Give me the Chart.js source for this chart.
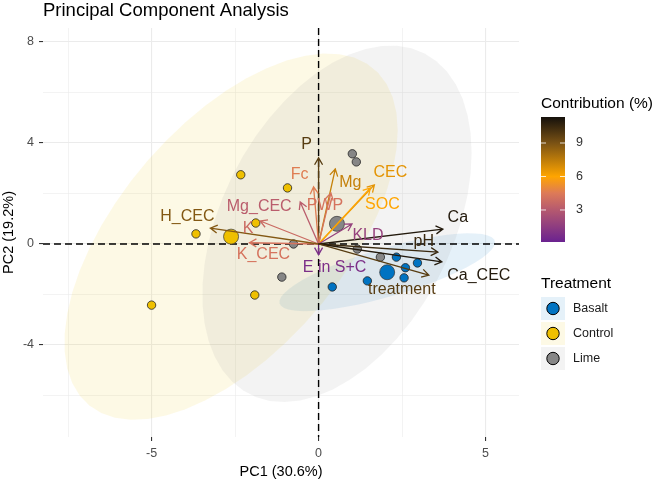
<!DOCTYPE html>
<html>
<head>
<meta charset="utf-8">
<title>Principal Component Analysis</title>
<script src="https://cdn.jsdelivr.net/npm/chart.js@4.4.1/dist/chart.umd.min.js"></script>
<style>
	html, body { margin: 0; padding: 0; background: #fff; }
	#pca-wrap { width: 657px; height: 481px; }
</style>
</head>
<body>
<div id="pca-wrap"><canvas id="pca-chart" width="657" height="481"></canvas></div>
<script>
	'use strict';

	// Individuals (PC1 / PC2 scores) per treatment group.
	var basaltPC1  = [2.33, 2.96, 2.60, 2.56, 1.46, 0.41];
	var basaltPC2  = [-0.52, -0.75, -0.94, -1.34, -1.46, -1.70];
	var controlPC1 = [-5.00, -3.67, -2.33, -1.88, -1.91, -0.93];
	var controlPC2 = [-2.42, 0.40, 2.74, 0.83, -2.02, 2.22];
	var limePC1    = [1.01, 1.13, -0.75, -1.10, 1.16, 1.85];
	var limePC2    = [3.57, 3.25, 0.00, -1.31, -0.20, -0.52];

	var groupNames = ['Basalt', 'Control', 'Lime'];

	// Variable loadings (arrow tips) and their contribution (%).
	var varNames   = ['P', 'Fc', 'Mg', 'CEC', 'SOC', 'PWP', 'Mg_CEC', 'K', 'K_CEC', 'H_CEC', 'E in S+C', 'KLD', 'Ca', 'pH', 'Ca_CEC', 'treatment'];
	var varPC1     = [0.00, -0.15, 0.50, 1.67, 1.55, 0.37, -0.55, -1.75, -2.07, -3.24, 0.00, 1.00, 3.72, 3.57, 3.69, 3.30];
	var varPC2     = [3.41, 2.26, 2.97, 2.34, 2.22, 2.02, 1.66, 0.91, 0.05, 0.63, -0.42, 0.79, 0.59, -0.32, -0.71, -1.23];
	var varContrib = [9.8, 4.6, 7.3, 6.6, 6.0, 4.2, 3.2, 3.8, 4.2, 8.8, 0.8, 1.8, 11.0, 10.5, 11.0, 9.8];

	// Axis ticks.
	var xTicks = [-7.5, -5, -2.5, 0, 2.5, 5];
	var xMajor = [-5, 0, 5];
	var yTicks = [-6, -4, -2, 0, 2, 4, 6, 8];
	var yMajor = [-4, 0, 4, 8];
	var contribTicks = [3, 6, 9];

	// ---- styling ----
	var FONT = '"Liberation Sans", Arial, Helvetica, sans-serif';
	var groupColors = { Basalt: '#0073C2', Control: '#EFC000', Lime: '#868686' };
	var ellipseAlpha = 0.1;
	var contribStops = [
		[0.13, [106, 34, 144]],
		[3.0, [181, 89, 111]],
		[4.5, [221, 122, 88]],
		[6.0, [255, 165, 0]],
		[9.0, [122, 82, 20]],
		[11.33, [21, 17, 12]]
	];
	// Label offsets (px) from each arrow tip, as placed by the repel step.
	var labelOffsets = {
		'P': [-12, -13], 'Fc': [-14, -12], 'Mg': [15, 14], 'CEC': [16, -12], 'SOC': [12, 17],
		'PWP': [-6, 13], 'Mg_CEC': [-41, 5], 'K': [-12, 8], 'K_CEC': [14, 12], 'H_CEC': [-23, -11],
		'E in S+C': [16, 13], 'KLD': [16, 12], 'Ca': [15, -11], 'pH': [-14, -10], 'Ca_CEC': [37, 14],
		'treatment': [-27, 15]
	};

	Chart.defaults.font.family = FONT;

	function mean(a) {
		var s = 0;
		for (var i = 0; i < a.length; i++) { s += a[i]; }
		return s / a.length;
	}

	function hexToRgba(hex, alpha) {
		var n = parseInt(hex.slice(1), 16);
		return 'rgba(' + ((n >> 16) & 255) + ',' + ((n >> 8) & 255) + ',' + (n & 255) + ',' + alpha + ')';
	}

	function contribColor(v) {
		var s = contribStops;
		if (v <= s[0][0]) { return 'rgb(' + s[0][1].join(',') + ')'; }
		for (var i = 1; i < s.length; i++) {
			if (v <= s[i][0]) {
				var t = (v - s[i - 1][0]) / (s[i][0] - s[i - 1][0]);
				var c = s[i - 1][1].map(function(a, k) { return Math.round(a + (s[i][1][k] - a) * t); });
				return 'rgb(' + c.join(',') + ')';
			}
		}
		return 'rgb(' + s[s.length - 1][1].join(',') + ')';
	}

	// Normal-theory 95% confidence ellipse (as ggplot2 stat_ellipse, type = "norm").
	function ellipsePoints(xs, ys, level) {
		var n = xs.length, mx = mean(xs), my = mean(ys);
		var sxx = 0, syy = 0, sxy = 0;
		for (var i = 0; i < n; i++) {
			var dx = xs[i] - mx, dy = ys[i] - my;
			sxx += dx * dx; syy += dy * dy; sxy += dx * dy;
		}
		sxx /= (n - 1); syy /= (n - 1); sxy /= (n - 1);
		var dfd = n - 1;
		var qf = dfd / 2 * (Math.pow(1 - level, -2 / dfd) - 1);   // qf(level, 2, dfd)
		var r = Math.sqrt(2 * qf);
		var a = Math.sqrt(sxx), b = sxy / a, c = Math.sqrt(syy - b * b);
		var pts = [];
		for (var k = 0; k <= 51; k++) {
			var t = 2 * Math.PI * k / 51, u = Math.cos(t), w = Math.sin(t);
			pts.push({ x: mx + r * u * a, y: my + r * (u * b + w * c) });
		}
		return pts;
	}

	function toPoints(xs, ys) {
		return xs.map(function(x, i) { return { x: x, y: ys[i] }; });
	}

	var groupData = {
		Basalt:  { x: basaltPC1,  y: basaltPC2 },
		Control: { x: controlPC1, y: controlPC2 },
		Lime:    { x: limePC1,    y: limePC2 }
	};

	var datasets = [];
	// Group means (drawn on top).
	groupNames.forEach(function(g) {
		datasets.push({
			label: g + ' mean',
			data: [{ x: mean(groupData[g].x), y: mean(groupData[g].y) }],
			pointRadius: 7.5,
			pointBackgroundColor: groupColors[g],
			pointBorderColor: '#333',
			pointBorderWidth: 0.7
		});
	});
	groupNames.forEach(function(g) {
		datasets.push({
			label: g,
			data: toPoints(groupData[g].x, groupData[g].y),
			pointRadius: 4.2,
			pointBackgroundColor: groupColors[g],
			pointBorderColor: '#222',
			pointBorderWidth: 0.8
		});
	});

	// Ellipses + zero lines under the points.
	var underlayPlugin = {
		id: 'underlay',
		beforeDatasetsDraw: function(chart) {
			var ctx = chart.ctx, xs = chart.scales.x, ys = chart.scales.y, area = chart.chartArea;
			ctx.save();
			ctx.beginPath();
			ctx.rect(area.left, area.top, area.right - area.left, area.bottom - area.top);
			ctx.clip();
			groupNames.forEach(function(g) {
				var pts = ellipsePoints(groupData[g].x, groupData[g].y, 0.95);
				ctx.beginPath();
				pts.forEach(function(p, i) {
					var px = xs.getPixelForValue(p.x), py = ys.getPixelForValue(p.y);
					if (i === 0) { ctx.moveTo(px, py); } else { ctx.lineTo(px, py); }
				});
				ctx.closePath();
				ctx.fillStyle = hexToRgba(groupColors[g], ellipseAlpha);
				ctx.fill();
			});
			// Dashed reference lines at 0.
			ctx.strokeStyle = '#000';
			ctx.lineWidth = 1.4;
			ctx.setLineDash([7, 4]);
			var y0 = ys.getPixelForValue(0), x0 = xs.getPixelForValue(0);
			ctx.beginPath();
			ctx.moveTo(area.left, y0); ctx.lineTo(area.right, y0);
			ctx.moveTo(x0, area.top); ctx.lineTo(x0, area.bottom);
			ctx.stroke();
			ctx.restore();
		}
	};

	// Variable arrows and labels over the points.
	var arrowsPlugin = {
		id: 'arrows',
		afterDatasetsDraw: function(chart) {
			var ctx = chart.ctx, xs = chart.scales.x, ys = chart.scales.y;
			var ox = xs.getPixelForValue(0), oy = ys.getPixelForValue(0);
			ctx.save();
			ctx.lineWidth = 1.3;
			ctx.lineCap = 'butt';
			varNames.forEach(function(name, i) {
				var tx = xs.getPixelForValue(varPC1[i]), ty = ys.getPixelForValue(varPC2[i]);
				var col = contribColor(varContrib[i]);
				var ang = Math.atan2(ty - oy, tx - ox), len = 8, spread = Math.PI / 6;
				ctx.strokeStyle = col;
				ctx.beginPath();
				ctx.moveTo(ox, oy); ctx.lineTo(tx, ty);
				ctx.moveTo(tx - len * Math.cos(ang - spread), ty - len * Math.sin(ang - spread));
				ctx.lineTo(tx, ty);
				ctx.lineTo(tx - len * Math.cos(ang + spread), ty - len * Math.sin(ang + spread));
				ctx.stroke();
			});
			ctx.font = '16px ' + FONT;
			ctx.textAlign = 'center';
			ctx.textBaseline = 'middle';
			varNames.forEach(function(name, i) {
				var tx = xs.getPixelForValue(varPC1[i]), ty = ys.getPixelForValue(varPC2[i]);
				var off = labelOffsets[name];
				ctx.fillStyle = contribColor(varContrib[i]);
				ctx.fillText(name, tx + off[0], ty + off[1]);
			});
			ctx.restore();
		}
	};

	// Title and the two right-hand legends.
	var decorPlugin = {
		id: 'decor',
		afterDraw: function(chart) {
			var ctx = chart.ctx;
			ctx.save();
			ctx.fillStyle = '#000';
			ctx.font = '18.5px ' + FONT;
			ctx.textAlign = 'left';
			ctx.textBaseline = 'alphabetic';
			ctx.fillText('Principal Component Analysis', 43, 16);

			// Contribution colour bar.
			var bx = 541, bw = 24, bTop = 117, bBot = 242, vMin = 0.13, vMax = 11.33;
			ctx.font = '15.5px ' + FONT;
			ctx.fillText('Contribution (%)', 541, 108);
			var grad = ctx.createLinearGradient(0, bBot, 0, bTop);
			contribStops.forEach(function(s) {
				grad.addColorStop((s[0] - vMin) / (vMax - vMin), 'rgb(' + s[1].join(',') + ')');
			});
			ctx.fillStyle = grad;
			ctx.fillRect(bx, bTop, bw, bBot - bTop);
			ctx.strokeStyle = 'rgba(255,255,255,0.8)';
			ctx.lineWidth = 1;
			ctx.font = '12.5px ' + FONT;
			ctx.textBaseline = 'middle';
			contribTicks.forEach(function(v) {
				var y = bBot - (v - vMin) / (vMax - vMin) * (bBot - bTop);
				ctx.beginPath();
				ctx.moveTo(bx, y); ctx.lineTo(bx + 5, y);
				ctx.moveTo(bx + bw - 5, y); ctx.lineTo(bx + bw, y);
				ctx.stroke();
				ctx.fillStyle = '#333';
				ctx.fillText(String(v), 576, y);
			});

			// Treatment legend.
			ctx.fillStyle = '#000';
			ctx.font = '15.5px ' + FONT;
			ctx.textBaseline = 'alphabetic';
			ctx.fillText('Treatment', 541, 288);
			groupNames.forEach(function(g, i) {
				var cy = 308.5 + i * 25;
				ctx.fillStyle = hexToRgba(groupColors[g], ellipseAlpha);
				ctx.fillRect(541, cy - 11.5, 24, 23);
				ctx.beginPath();
				ctx.arc(553, cy, 6.2, 0, 2 * Math.PI);
				ctx.fillStyle = groupColors[g];
				ctx.fill();
				ctx.lineWidth = 1;
				ctx.strokeStyle = '#000';
				ctx.stroke();
				ctx.fillStyle = '#1a1a1a';
				ctx.font = '12.5px ' + FONT;
				ctx.textBaseline = 'middle';
				ctx.fillText(g, 573, cy);
			});
			ctx.restore();
		}
	};

	function isIn(v, list) { return list.indexOf(v) !== -1; }

	var ctx = document.getElementById('pca-chart').getContext('2d');
	new Chart(ctx, {
		type: 'scatter',
		data: { datasets: datasets },
		options: {
			responsive: false,
			animation: false,
			devicePixelRatio: 1,
			layout: { padding: { top: 28, right: 138, left: 0, bottom: 0 } },
			plugins: {
				legend: { display: false },
				tooltip: { enabled: false },
				title: { display: false }
			},
			scales: {
				x: {
					type: 'linear',
					min: -8.25,
					max: 6.0,
					afterBuildTicks: function(s) { s.ticks = xTicks.map(function(v) { return { value: v }; }); },
					afterFit: function(s) { s.height = 44; },
					border: { display: false },
					grid: {
						color: '#ebebeb',
						lineWidth: function(c) { return c.tick && isIn(c.tick.value, xMajor) ? 1.1 : 0.6; },
						drawTicks: true,
						tickLength: 4,
						tickWidth: 1.1,
						tickColor: function(c) { return c.tick && isIn(c.tick.value, xMajor) ? '#333' : 'rgba(0,0,0,0)'; }
					},
					ticks: {
						autoSkip: false,
						maxRotation: 0,
						padding: 5,
						color: '#4d4d4d',
						font: { size: 12.5 },
						callback: function(v) { return isIn(v, xMajor) ? String(v) : ''; }
					},
					title: {
						display: true,
						text: 'PC1 (30.6%)',
						color: '#000',
						font: { size: 14.5 },
						padding: { top: 2, bottom: 0 }
					}
				},
				y: {
					type: 'linear',
					min: -7.64,
					max: 8.55,
					afterBuildTicks: function(s) { s.ticks = yTicks.map(function(v) { return { value: v }; }); },
					afterFit: function(s) { s.width = 43; },
					border: { display: false },
					grid: {
						color: '#ebebeb',
						lineWidth: function(c) { return c.tick && isIn(c.tick.value, yMajor) ? 1.1 : 0.6; },
						drawTicks: true,
						tickLength: 4,
						tickWidth: 1.1,
						tickColor: function(c) { return c.tick && isIn(c.tick.value, yMajor) ? '#333' : 'rgba(0,0,0,0)'; }
					},
					ticks: {
						autoSkip: false,
						padding: 5,
						color: '#4d4d4d',
						font: { size: 12.5 },
						callback: function(v) { return isIn(v, yMajor) ? String(v) : ''; }
					},
					title: {
						display: true,
						text: 'PC2 (19.2%)',
						color: '#000',
						font: { size: 14.5 },
						padding: { top: 0, bottom: 0 }
					}
				}
			}
		},
		plugins: [underlayPlugin, arrowsPlugin, decorPlugin]
	});
</script>
</body>
</html>
